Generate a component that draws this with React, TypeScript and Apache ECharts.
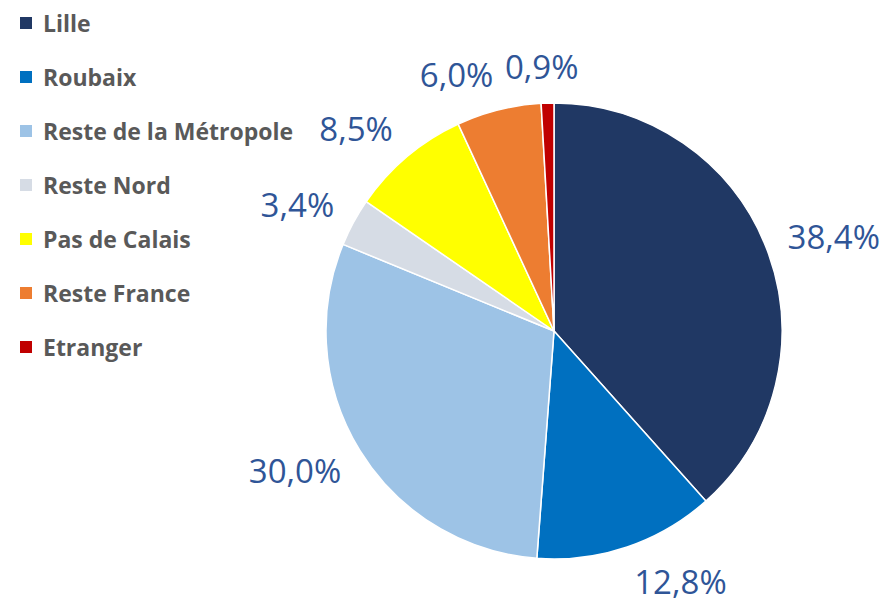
import React, { useEffect, useRef } from "react";
import * as echarts from "echarts";

const categories = ["Lille", "Roubaix", "Reste de la Métropole", "Reste Nord", "Pas de Calais", "Reste France", "Etranger"];
const values = [38.4, 12.8, 30.0, 3.4, 8.5, 6.0, 0.9];
const colors = ["#203864", "#0070C0", "#9DC3E6", "#D6DCE5", "#FFFF00", "#ED7D31", "#C00000"];

const fmt = (v: number) => v.toFixed(1).replace(".", ",") + "%";

const CX = 554;
const CY = 331;
const R = 228;
const LABEL_GAP = 22;
const LABEL_FONT = 33;

export default function App() {
  const ref = useRef<HTMLDivElement>(null);
  useEffect(() => {
    if (!ref.current) return;
    const chart = echarts.init(ref.current, undefined, { renderer: "svg" });
    const data = categories.map((name, i) => ({ name, value: values[i], itemStyle: { color: colors[i] } }));
    const total = values.reduce((a, b) => a + b, 0);
    const labelLayout = (params: any) => {
      const i = params.dataIndex;
      let cum = 0;
      for (let k = 0; k < i; k++) cum += values[k];
      const theta = ((cum + values[i] / 2) / total) * Math.PI * 2;
      const s = Math.sin(theta);
      const c = Math.cos(theta);
      const d = R + LABEL_GAP;
      const ax = CX + d * s;
      const ay = CY - d * c;
      const w = params.labelRect.width;
      const h = LABEL_FONT * 0.9;
      const hk = Math.max(-1, Math.min(1, s * 5));
      return {
        x: ax + (hk * w) / 2,
        y: ay - (c * h) / 2,
        align: "center",
        verticalAlign: "middle",
      };
    };
    chart.setOption({
      animation: false,
      legend: {
        orient: "vertical",
        left: 18,
        top: 11,
        padding: 0,
        itemWidth: 14,
        itemHeight: 14,
        itemGap: 30,
        icon: "rect",
        data: categories,
        selectedMode: false,
        textStyle: {
          fontFamily: "Open Sans",
          fontWeight: "bold",
          fontSize: 23,
          color: "#595959",
          lineHeight: 24,
          padding: [0, 0, 0, 5],
        },
      },
      series: [
        {
          type: "pie",
          center: [CX, CY],
          radius: R,
          startAngle: 90,
          clockwise: true,
          avoidLabelOverlap: false,
          label: {
            show: true,
            position: "outside",
            formatter: (p: any) => fmt(p.value),
            color: "#2F5597",
            fontFamily: "Open Sans",
            fontSize: LABEL_FONT,
          },
          labelLine: { show: false },
          labelLayout,
          itemStyle: { borderColor: "#ffffff", borderWidth: 1.5 },
          data,
        },
      ],
    });
    return () => chart.dispose();
  }, []);
  return <div ref={ref} style={{ position: "fixed", left: 0, top: 0, width: 883, height: 600, background: "#fff" }} />;
}
